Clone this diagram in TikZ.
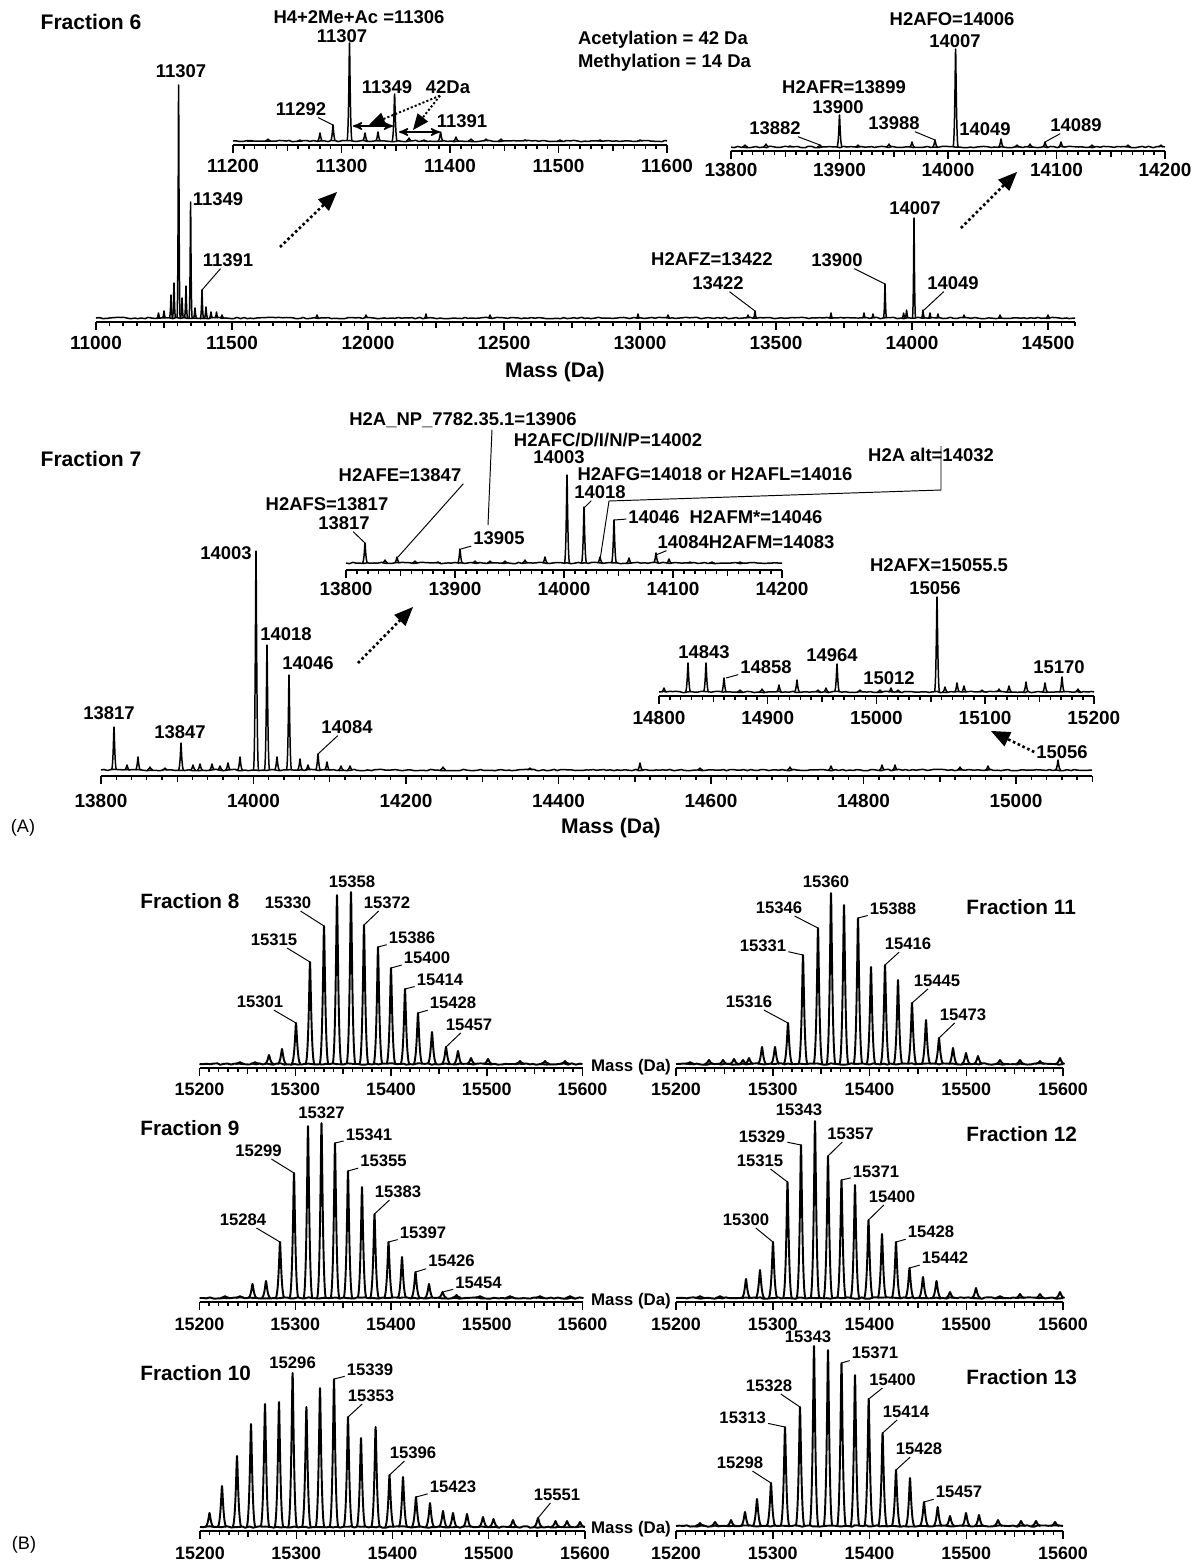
\documentclass[tikz,border=0pt]{standalone}
\usepackage{fontspec}
\setmainfont{Liberation Sans}
\usetikzlibrary{arrows,decorations.pathmorphing}

\newcommand{\spec}[5]{%
	\draw[spec,noisy] (#2,#1) -- (#3,#1);
	\foreach \xp/\yp in {#5}
		\draw[spec] ({\xp-#4},#1) .. controls ({\xp-0.3*#4},#1) and ({\xp-0.12*#4},\yp) .. (\xp,\yp)
			.. controls ({\xp+0.12*#4},\yp) and ({\xp+0.3*#4},#1) .. ({\xp+#4},#1);
}
\newcommand{\xaxis}[9]{%
	\pgfmathsetmacro\xe{#2+(#5-#4)*#3}
	\draw[ax] (#2,#1) -- (\xe,#1);
	\pgfmathtruncatemacro\ma{#4+#6}
	\foreach \m in {#4,\ma,...,#5}{\pgfmathsetmacro\tx{#2+(\m-#4)*#3}\draw[tk] (\tx,#1) -- ++(0,4);}
	\pgfmathtruncatemacro\mh{#7/2}
	\pgfmathtruncatemacro\mb{#4+\mh}
	\foreach \m in {#4,\mb,...,#5}{\pgfmathsetmacro\tx{#2+(\m-#4)*#3}\draw[tk] (\tx,#1) -- ++(0,6);}
	\pgfmathtruncatemacro\mc{#4+#7}
	\foreach \m in {#4,\mc,...,#5}{\pgfmathsetmacro\tx{#2+(\m-#4)*#3}\draw[tk] (\tx,#1) -- ++(0,8);
		\node[tick] (#9\m) at (\tx,{#1+#8}) {\m};}
}
\newcommand{\pl}[7][lbl]{%
	\coordinate (#2) at (#3,#4);
	\node[#1] (#2l) at (#5,#6) {#7};
	\draw[lead] (#2l) -- (#2);
}

\begin{document}
\begin{tikzpicture}[x=0.02cm,y=-0.02cm,>=stealth',
	spec/.style={line width=0.85pt,line join=round},
	noisy/.style={decorate,decoration={random steps,segment length=2pt,amplitude=0.4pt}},
	ax/.style={line width=1.1pt},
	tk/.style={line width=0.85pt},
	lead/.style={line width=0.55pt},
	dbl/.style={<->,line width=0.9pt},
	dot/.style={-triangle 45,line width=1.1pt,dash pattern=on 1.2pt off 1.2pt},
	zoomar/.style={-triangle 45,line width=1.5pt,dash pattern=on 1.5pt off 1.5pt},
	lbl/.style={font=\bfseries\fontsize{10.5}{12}\selectfont,inner sep=1pt},
	tick/.style={font=\bfseries\fontsize{10.8}{12}\selectfont,inner sep=0pt},
	ttl/.style={font=\bfseries\fontsize{12}{14}\selectfont,inner sep=0pt},
	blbl/.style={font=\bfseries\fontsize{9.5}{11}\selectfont,inner sep=1pt},
	bttl/.style={font=\bfseries\fontsize{11.8}{13}\selectfont,inner sep=0pt},
	bmass/.style={font=\bfseries\fontsize{9.6}{11}\selectfont,inner sep=0pt},
	reg/.style={font=\fontsize{10.3}{12}\selectfont,inner sep=0pt}]

\useasboundingbox[fill=white] (0,0) rectangle (1195,1563);

\spec{318}{96}{1075}{1.6}{158.5/313,164/311,171/295,174/283,178.6/85,182/298,186/286,190.6/202,195/308,202/290,206/307,211/312,216.5/312,222/315,317/315,366/315,426/314,490/315,638/314,668/315,748/315,755/311,831/313,864/313,873/314,885/284,903.6/313,906.6/310,914/218,923/310,930/313,938/314,964/315,1000/315,1048/315}
\xaxis{322}{96}{0.272}{11000}{14600}{50}{500}{21}{a}
\node[ttl] (f6) at (91,22) {Fraction 6};
\node[lbl] (m11307) at (181,71) {11307};
\node[lbl] (m11349) at (218,199) {11349};
\pl{m11391}{202}{290}{228}{260}{11391}
\node[ttl] (mass6) at (555,372) {Mass (Da)};
\node[lbl] (h2afz) at (712,259) {H2AFZ=13422};
\pl{m13422}{755}{311}{718}{283}{13422}
\pl{m13900}{885}{284}{837}{260}{13900}
\node[lbl] (m14007) at (915,208) {14007};
\pl{m14049}{924}{310}{953}{283}{14049}
\node[lbl,anchor=west] (acet) at (576,40) {Acetylation = 42 Da};
\node[lbl,anchor=west] (meth) at (576,63) {Methylation = 14 Da};
\coordinate (z1a) at (280,247);	\coordinate (z1b) at (337,192);
\draw[zoomar] (z1a) -- (z1b);
\coordinate (z2a) at (961,228);	\coordinate (z2b) at (1017,172);
\draw[zoomar] (z2a) -- (z2b);

\spec{141}{233}{667}{2.6}{250/141,268/139,300/140,320/133,333/125,349.5/43,365/133,378/132,394.6/94,409/138,424/140,440.6/132,456/137,471/139,486/139,501/139,525/140,560/140,600/140,640/140}
\xaxis{145}{233}{1.085}{11200}{11600}{10}{100}{21}{b}
\node[lbl] (ac) at (359,17) {H4+2Me+Ac =11306};
\node[lbl] (i11307) at (342,36) {11307};
\pl{i11292}{333}{125}{301}{109}{11292}
\node[lbl] (i11349) at (387,87) {11349};
\node[lbl] (da42) at (448,87) {42Da};
\node[lbl] (i11391) at (462,121) {11391};
\coordinate (d1a) at (353,126);	\coordinate (d1b) at (393,126);
\coordinate (d2a) at (399,132);	\coordinate (d2b) at (440,132);
\draw[dbl] (d1a) -- (d1b);
\draw[dbl] (d2a) -- (d2b);
\coordinate (t1) at (369,125);	\coordinate (t2) at (413,130);
\draw[dot] ([xshift=-0.16cm]da42.south) -- (t1);
\draw[dot] ([xshift=-0.16cm]da42.south) -- (t2);

\spec{147}{731}{1165}{2.6}{745/145,766/144,790/146,820/145,839.5/115,858/145,889/144,912/142,935/140,955.6/49,1001/139,1017/145,1030/144,1045/142,1061/142,1092/145,1128/145,1161/145}
\xaxis{151}{731}{1.085}{13800}{14200}{10}{100}{19}{c}
\node[lbl] (h2afo) at (952,19) {H2AFO=14006};
\node[lbl] (j14007) at (955,41) {14007};
\node[lbl] (h2afr) at (844,87) {H2AFR=13899};
\node[lbl] (j13900) at (838,107) {13900};
\pl{j13882}{820}{145}{775}{128}{13882}
\pl{j13988}{935}{140}{894}{123}{13988}
\node[lbl] (j14049) at (985,129) {14049};
\pl{j14089}{1045}{142}{1076}{125}{14089}

\spec{770}{101}{1092}{2.6}{114/727,127/765,138/757,150/767,165/768,181/743,193/765,200/764,212/764,220/766,228/763,240/757,256/551,267/645,277/757,289/675,300/759,308/765,318/754,327/762,341/766,350/766,443/767,530/768,640/763,700/768,790/767,831/766,882/765,895/765,960/767,988/766,1058/760}
\xaxis{776}{101}{0.7625}{13800}{15100}{20}{200}{25}{d}
\node[ttl] (f7) at (91,459) {Fraction 7};
\node[lbl] (n13817) at (109,713) {13817};
\node[lbl] (n13847) at (180,732) {13847};
\node[lbl] (n14003) at (226,553) {14003};
\node[lbl] (n14018) at (286,634) {14018};
\node[lbl] (n14046) at (308,663) {14046};
\pl{n14084}{318}{754}{347}{727}{14084}
\node[lbl] (n15056) at (1062,752) {15056};
\coordinate (z4b) at (991,731);
\draw[zoomar] (n15056.west) -- (z4b);
\coordinate (z3a) at (358,663);	\coordinate (z3b) at (413,607);
\draw[zoomar] (z3a) -- (z3b);
\node[ttl] (mass7) at (611,828) {Mass (Da)};
\node[reg] (pa) at (23,828) {(A)};

\spec{563}{346}{782}{2.6}{365/543,385/560,397/557,415/561,438/562,460/549,475/561,490/561,505/561,525/560,545/557,567/475,584/507,600/557,614/520,629/558,656/553,669/559,690/562,712/562,740/562}
\xaxis{570}{346}{1.09}{13800}{14200}{10}{100}{19}{e}
\node[lbl] (h2afs) at (327,504) {H2AFS=13817};
\pl{o13817}{365}{543}{344}{523}{13817}
\node[lbl] (h2afe) at (400,475) {H2AFE=13847};
\coordinate (o13847) at (398,557);
\draw[lead] (h2afe.south east) -- (o13847);
\node[lbl] (np) at (463,420) {H2A\_NP\_7782.35.1=13906};
\coordinate (o13906) at (488,525);
\draw[lead] ([xshift=0.58cm]np.south) -- (o13906);
\pl{o13905}{461}{549}{499}{538}{13905}
\node[lbl] (h2afc) at (608,440) {H2AFC/D/I/N/P=14002};
\node[lbl] (o14003) at (559,457) {14003};
\node[lbl] (h2afg) at (715,474) {H2AFG=14018 or H2AFL=14016};
\pl{o14018}{584}{508}{600}{492}{14018}
\node[lbl] (alt) at (931,455) {H2A alt=14032};
\coordinate (alt1) at (941,490);	\coordinate (alt2) at (609,501);	\coordinate (o14032) at (600,560);
\draw[lead] (alt.north -| alt1) -- (alt1) -- (alt2) -- (o14032);
\pl{o14046}{614}{520}{654}{517}{14046}
\node[lbl] (h2afm) at (756,517) {H2AFM*=14046};
\node[lbl] (o14084l) at (746,542) {14084H2AFM=14083};
\coordinate (o14084) at (656,555);
\draw[lead] ([xshift=0.22cm]o14084l.south west) -- (o14084);

\spec{692}{659}{1094}{2.6}{664/688,688/663,706/663,724/678,740/690,762/689,779/685,797/680,818/690,826/688,837/664,860/690,880/690,891/688,898/690,937/597,945/687,957/683,964/686,982/690,999/689,1009/686,1026/682,1045/683,1062/677,1078/689}
\xaxis{696}{659}{1.087}{14800}{15200}{10}{100}{22}{g}
\node[lbl] (h2afx) at (939,565) {H2AFX=15055.5};
\node[lbl] (q15056) at (935,588) {15056};
\node[lbl] (q14843) at (704,652) {14843};
\pl{q14858}{726}{678}{766}{667}{14858}
\node[lbl] (q14964) at (832,655) {14964};
\node[lbl] (q15012) at (889,678) {15012};
\node[lbl] (q15170) at (1059,667) {15170};

\begin{scope}[tick/.style={font=\bfseries\fontsize{10.2}{12}\selectfont,inner sep=0pt},
	spec/.style={line width=1.1pt,line join=round}]
\spec{1064}{199.5}{582.5}{4.5}{240/1062,255/1062,269/1055,282/1049,296/1023,310/962,324/926,337/895,351/892,364/925,378/947,391/968,405/989,418/1013,432/1032,446/1047,458/1051,471/1058,488/1059,520/1061,545/1061,565/1061}
\xaxis{1068}{199.5}{0.9575}{15200}{15600}{10}{100}{21}{h}
\node[bttl,anchor=west] (f8) at (140,901) {Fraction 8};
\node[blbl] (e15358) at (352,882) {15358};
\pl[blbl]{e15330}{324}{926}{288}{903}{15330}
\pl[blbl]{e15372}{364}{925}{387}{903}{15372}
\pl[blbl]{e15315}{310}{962}{274}{940}{15315}
\pl[blbl]{e15386}{378}{947}{412}{938}{15386}
\pl[blbl]{e15400}{391}{968}{427}{958}{15400}
\pl[blbl]{e15414}{405}{989}{440}{980}{15414}
\pl[blbl]{e15428}{418}{1013}{453}{1003}{15428}
\pl[blbl]{e15457}{446}{1047}{469}{1025}{15457}
\pl[blbl]{e15301}{296}{1023}{260}{1002}{15301}
\node[bmass] (massb1) at (631,1067) {Mass (Da)};

\spec{1064}{676}{1063}{4.5}{690/1062,709/1060,723/1060,734/1059,743/1060,749/1058,762/1047,775/1047,788/1023,803/955,818/928,831/893,844/905,858/918,871/967,885/965,898/980,912/1003,926/1020,939/1038,953/1048,966/1053,978/1056,1000/1060,1020/1060,1040/1061,1060/1058}
\xaxis{1068}{676}{0.9675}{15200}{15600}{10}{100}{21}{k}
\node[bttl,anchor=west] (f11) at (966,907) {Fraction 11};
\node[blbl] (k15360) at (826,882) {15360};
\pl[blbl]{k15346}{818}{928}{779}{908}{15346}
\pl[blbl]{k15388}{858}{918}{893}{909}{15388}
\pl[blbl]{k15331}{803}{955}{763}{946}{15331}
\pl[blbl]{k15416}{885}{965}{908}{944}{15416}
\pl[blbl]{k15445}{912}{1003}{937}{981}{15445}
\pl[blbl]{k15316}{788}{1023}{749}{1002}{15316}
\pl[blbl]{k15473}{939}{1038}{963}{1015}{15473}

\spec{1298}{199.5}{583.5}{4.5}{225/1296,240/1296,252.5/1284,266/1281,280/1242,294/1173,308/1126,321.5/1123,335/1143,348/1171,362/1187,374.5/1214,388.5/1242,402/1257,415.5/1272,429/1284,442.5/1292,456.5/1295,480/1296,510/1296,540/1296,570/1296}
\xaxis{1302}{199.5}{0.9575}{15200}{15600}{10}{100}{22}{l}
\node[bttl,anchor=west] (f9) at (140,1128) {Fraction 9};
\node[blbl] (g15327) at (321.5,1113) {15327};
\pl[blbl]{g15299}{294}{1173}{258.5}{1151}{15299}
\pl[blbl]{g15341}{335}{1143}{369}{1135}{15341}
\pl[blbl]{g15355}{348}{1171}{383.5}{1161}{15355}
\pl[blbl]{g15383}{374.5}{1214}{398}{1192}{15383}
\pl[blbl]{g15284}{280}{1242}{243}{1220}{15284}
\pl[blbl]{g15397}{388.5}{1242}{423}{1233}{15397}
\pl[blbl]{g15426}{415.5}{1272}{451.5}{1261}{15426}
\pl[blbl]{g15454}{442.5}{1292}{478.5}{1283}{15454}
\node[bmass] (massb2) at (631,1301) {Mass (Da)};

\spec{1298}{676}{1063}{4.5}{700/1296,720/1296,746/1279,760/1270,773/1242,787.5/1182,801/1145,815/1121,828/1156,841.5/1180,855/1185,868.5/1220,882/1234,896/1242,909.5/1268,923/1277,936.5/1281,950/1292,976/1288,1000/1296,1020/1294,1040/1294,1060/1292}
\xaxis{1302}{676}{0.9675}{15200}{15600}{10}{100}{22}{r}
\node[bttl,anchor=west] (f12) at (966,1134) {Fraction 12};
\node[blbl] (l15343) at (799,1110) {15343};
\pl[blbl]{l15329}{801}{1145}{762}{1137}{15329}
\pl[blbl]{l15357}{828}{1156}{850.5}{1134}{15357}
\pl[blbl]{l15315}{787.5}{1182}{760}{1161}{15315}
\pl[blbl]{l15371}{841.5}{1180}{876}{1172}{15371}
\pl[blbl]{l15400}{868.5}{1220}{892}{1197}{15400}
\pl[blbl]{l15300}{773}{1242}{746}{1220}{15300}
\pl[blbl]{l15428}{896}{1242}{931}{1232}{15428}
\pl[blbl]{l15442}{909.5}{1268}{945}{1258}{15442}

\spec{1527}{200}{585}{4.5}{209.5/1513,222/1486,237/1456,251/1424,265/1404,279/1402,292.6/1373,306.4/1407,320/1388,334/1379,348/1417,361/1438,375.6/1427,389.5/1475,403/1477,416/1497,430/1503,443/1511,453/1513,467/1514,483/1517,493.5/1519,513/1520,538/1518,555.5/1521,567/1521,580/1522}
\xaxis{1531}{200}{0.9625}{15200}{15600}{10}{100}{22}{s}
\node[bttl,anchor=west] (f10) at (140,1373) {Fraction 10};
\node[blbl] (t15296) at (292.6,1363) {15296};
\pl[blbl]{t15339}{334}{1379}{370}{1370}{15339}
\pl[blbl]{t15353}{348}{1417}{371}{1396}{15353}
\pl[blbl]{t15396}{389.5}{1475}{413}{1453}{15396}
\pl[blbl]{t15423}{416}{1497}{453}{1487}{15423}
\pl[blbl]{t15551}{538}{1518}{557}{1495}{15551}
\node[reg] (pb) at (24,1545) {(B)};

\spec{1526}{676}{1063}{4.5}{700/1523,715/1522,731/1520,745/1512,757/1499,771/1483,785/1427,800/1407,814/1346,828/1350,841.5/1363,855/1375,868.7/1399,882.6/1433,896/1470,910/1478,924/1502,937.7/1507,950/1516,966/1513,979/1515,998/1520,1021/1521,1036/1521,1055/1522}
\xaxis{1531}{676}{0.9675}{15200}{15600}{10}{100}{22}{u}
\node[bttl,anchor=west] (f13) at (966,1377) {Fraction 13};
\node[blbl] (s15343) at (808,1337) {15343};
\pl[blbl]{s15371}{841.5}{1363}{875}{1353}{15371}
\pl[blbl]{s15328}{800}{1407}{769}{1386}{15328}
\pl[blbl]{s15400}{868.7}{1399}{892.5}{1380}{15400}
\pl[blbl]{s15313}{785}{1427}{742.7}{1418}{15313}
\pl[blbl]{s15414}{882.6}{1433}{906}{1412}{15414}
\pl[blbl]{s15428}{896}{1470}{919}{1449}{15428}
\pl[blbl]{s15298}{771}{1483}{740}{1463}{15298}
\pl[blbl]{s15457}{924}{1502}{959}{1492}{15457}
\node[bmass] (massb3) at (631,1529) {Mass (Da)};
\end{scope}

\end{tikzpicture}
\end{document}
